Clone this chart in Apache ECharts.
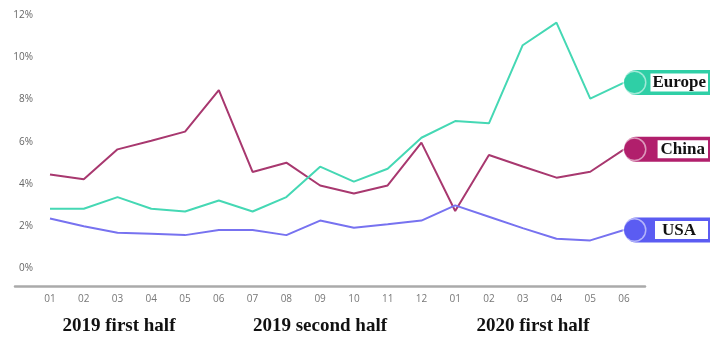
<!DOCTYPE html>
<html>
<head>
<meta charset="utf-8">
<script src="https://cdn.jsdelivr.net/npm/echarts@6/dist/echarts.min.js"></script>
<style>html,body{margin:0;padding:0;background:#fff}#c{width:710px;height:338px}</style>
</head>
<body>
<div id="c"></div>
<script>
var months = ['01','02','03','04','05','06','07','08','09','10','11','12','01','02','03','04','05','06'];
var europe = [2.83, 2.83, 3.38, 2.83, 2.70, 3.22, 2.70, 3.38, 4.82, 4.11, 4.72, 6.19, 6.98, 6.87, 10.57, 11.64, 8.04, 8.8];
var china  = [4.45, 4.22, 5.64, 6.05, 6.48, 8.44, 4.57, 5.01, 3.93, 3.55, 3.93, 5.96, 2.72, 5.37, 4.83, 4.30, 4.58, 5.64];
var usa    = [2.37, 2.00, 1.69, 1.64, 1.58, 1.82, 1.82, 1.58, 2.27, 1.93, 2.09, 2.27, 2.99, 2.45, 1.91, 1.41, 1.33, 1.82];
var seriesNames = ['Europe', 'China', 'USA'];
var groupLabels = ['2019 first half', '2019 second half', '2020 first half'];
var yTicks = [0, 2, 4, 6, 8, 10, 12];

var styles = {
  Europe: {line: '#45d8b4', dot: '#2fcfa6', pad: [1, 2, 0, 2]},
  China:  {line: '#a8386f', dot: '#b11f6c', pad: [1, 3, 0, 3]},
  USA:    {line: '#7772f0', dot: '#5b5cf2', pad: [1, 12, 0, 7]}
};
var valuesByName = {Europe: europe, China: china, USA: usa};

function makeSeries(name) {
  var s = styles[name];
  return {
    name: name,
    type: 'line',
    data: valuesByName[name],
    showSymbol: false,
    lineStyle: {color: s.line, width: 2},
    itemStyle: {color: s.line},
    z: name === 'Europe' ? 3 : 2,
    endLabel: {
      show: true,
      distance: 0,
      width: 84,
      backgroundColor: s.dot,
      padding: [2, 3, 2, 0],
      borderRadius: [12, 0, 0, 12],
      formatter: '{dot|}{box|' + name + '}',
      rich: {
        dot: {
          width: 21, height: 21, borderRadius: 11,
          backgroundColor: s.dot,
          borderColor: 'rgba(255,255,255,0.55)', borderWidth: 1.5,
          align: 'left'
        },
        box: {
          align: 'right',
          backgroundColor: '#fff',
          padding: s.pad,
          fontFamily: 'Liberation Serif',
          fontWeight: 'bold',
          fontSize: 17,
          lineHeight: 18,
          color: '#111'
        }
      }
    }
  };
}

var groupCenters = [119, 320, 533];
var graphics = groupLabels.map(function (t, i) {
  return {
    type: 'text',
    x: groupCenters[i], y: 326,
    style: {
      text: t,
      font: 'bold 19px "Liberation Serif"',
      fill: '#111',
      align: 'center',
      verticalAlign: 'middle'
    }
  };
});

var chart = echarts.init(document.getElementById('c'), null, {renderer: 'canvas'});
chart.setOption({
  backgroundColor: '#fff',
  animation: false,
  grid: [
    {left: 50, right: 86, top: 15, bottom: 69.5},
    {left: 15, right: 65, top: 285, height: 1}
  ],
  xAxis: [
    {
      type: 'category', data: months, boundaryGap: false, gridIndex: 0,
      axisLine: {show: false}, axisTick: {show: false},
      axisLabel: {color: '#777', fontSize: 10, fontFamily: 'Open Sans', margin: 26}
    },
    {
      type: 'value', gridIndex: 1, min: 0, max: 1,
      axisLine: {show: true, lineStyle: {color: '#aaa', width: 2.5}},
      axisTick: {show: false}, axisLabel: {show: false}, splitLine: {show: false}
    }
  ],
  yAxis: [
    {
      type: 'value', gridIndex: 0, min: yTicks[0], max: yTicks[yTicks.length - 1], interval: 2,
      axisLine: {show: false}, axisTick: {show: false}, splitLine: {show: false},
      axisLabel: {color: '#666', fontSize: 10, fontFamily: 'Open Sans', margin: 17,
        formatter: function (v) { return v + '%'; }}
    },
    {type: 'value', gridIndex: 1, show: false}
  ],
  series: seriesNames.map(makeSeries),
  graphic: graphics
});
</script>
</body>
</html>
